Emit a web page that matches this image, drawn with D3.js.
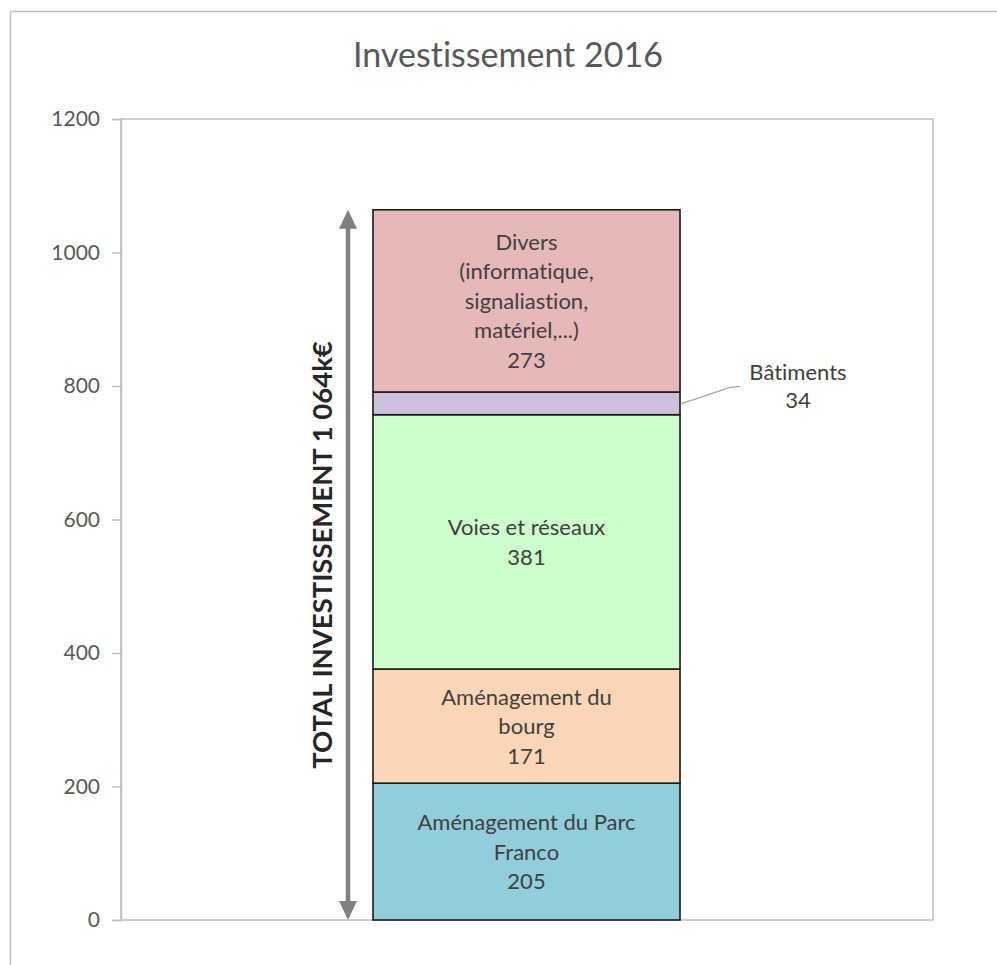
<!DOCTYPE html>
<html><head><meta charset="utf-8">
<script src="https://d3js.org/d3.v7.min.js"></script>
<style>body{margin:0;background:#fff}svg{display:block}text{font-variant-ligatures:none;font-feature-settings:"liga" 0}</style>
</head><body>
<script>
const categories = ["Aménagement du Parc Franco", "Aménagement du bourg", "Voies et réseaux", "Bâtiments", "Divers (informatique, signaliastion, matériel,...)"];
const values = [205, 171, 381, 34, 273];
const labelLines = [["Aménagement du Parc", "Franco"], ["Aménagement du", "bourg"], ["Voies et réseaux"], ["Bâtiments"], ["Divers", "(informatique,", "signaliastion,", "matériel,...)"]];
const colors = ["#92CDDC", "#FBD5B5", "#CCFFCC", "#CCC0DA", "#E6B9B8"];
const yTicks = [0, 200, 400, 600, 800, 1000, 1200];
const title = "Investissement 2016";
const totalLabel = "TOTAL INVESTISSEMENT 1 064k€";

const W = 997, H = 965;
const svg = d3.select("body").append("svg").attr("width", W).attr("height", H);
const font = "Lato, 'Open Sans', sans-serif";

svg.append("rect").attr("x", 10.5).attr("y", 11.5).attr("width", 1000).attr("height", 1000)
  .attr("fill", "#fff").attr("stroke", "#bfbfbf").attr("stroke-width", 1.5);

const plot = {l: 121, r: 933, t: 119, b: 920};
const y = d3.scaleLinear().domain([0, 1200]).range([plot.b, plot.t]);

svg.append("rect").attr("x", plot.l).attr("y", plot.t).attr("width", plot.r - plot.l).attr("height", plot.b - plot.t)
  .attr("fill", "none").attr("stroke", "#bfbfbf").attr("stroke-width", 1.5);

const axis = d3.axisLeft(y).tickValues(yTicks).tickFormat(d3.format("d")).tickSize(9).tickPadding(12);
const ag = svg.append("g").attr("transform", `translate(${plot.l},0)`).call(axis);
ag.select(".domain").attr("stroke", "#bfbfbf").attr("stroke-width", 1.5);
ag.selectAll(".tick line").attr("stroke", "#bfbfbf").attr("stroke-width", 1.5);
ag.selectAll(".tick text").attr("fill", "#595959").attr("font-family", font).attr("font-size", 21)
  .attr("dy", null).attr("y", 6.5);

svg.append("text").attr("x", 508).attr("y", 67).attr("text-anchor", "middle")
  .attr("font-family", font).attr("font-size", 34).attr("fill", "#595959").text(title);

// stacked data
let cum = 0;
const segs = values.map((v, i) => { const s = {v, i, y0: cum, y1: cum + v}; cum += v; return s; });
const barX0 = 373, barX1 = 680;

svg.selectAll("rect.seg").data(segs).enter().append("rect")
  .attr("x", barX0).attr("width", barX1 - barX0)
  .attr("y", d => y(d.y1)).attr("height", d => y(d.y0) - y(d.y1))
  .attr("fill", d => colors[d.i]).attr("stroke", "#1a1a1a").attr("stroke-width", 1.6);

const cx = (barX0 + barX1) / 2;
const lh = 29.5;
segs.forEach(d => {
  if (d.i === 3) return;
  const lines = labelLines[d.i].concat([String(d.v)]);
  const mid = (y(d.y0) + y(d.y1)) / 2;
  const start = mid - (lines.length - 1) * lh / 2 + 8;
  const t = svg.append("text").attr("text-anchor", "middle").attr("font-family", font)
    .attr("font-size", 22).attr("fill", "#404040");
  lines.forEach((ln, k) => t.append("tspan").attr("x", cx).attr("y", start + k * lh).text(ln));
});

// Bâtiments outside label
const b = segs[3];
const bMid = (y(b.y0) + y(b.y1)) / 2;
svg.append("polyline").attr("points", `${barX1+1},${bMid+0.5} ${barX1+50},${bMid-16} ${barX1+60},${bMid-17}`)
  .attr("fill", "none").attr("stroke", "#a6a6a6").attr("stroke-width", 1.2);
const bt = svg.append("text").attr("text-anchor", "middle").attr("font-family", font)
  .attr("font-size", 22).attr("fill", "#404040");
bt.append("tspan").attr("x", 798).attr("y", bMid - 23.5).text(labelLines[3][0]);
bt.append("tspan").attr("x", 798).attr("y", bMid - 23.5 + 28.5).text(String(b.v));

// total arrow
const ax = 348;
const yTop = y(cum), yBot = y(0);
svg.append("line").attr("x1", ax).attr("x2", ax).attr("y1", yTop + 12).attr("y2", yBot - 12)
  .attr("stroke", "#808080").attr("stroke-width", 4.5);
svg.append("path").attr("d", `M${ax},${yTop} L${ax-9},${yTop+19} L${ax+9},${yTop+19} Z`).attr("fill", "#808080");
svg.append("path").attr("d", `M${ax},${yBot} L${ax-9},${yBot-19} L${ax+9},${yBot-19} Z`).attr("fill", "#808080");

svg.append("text").attr("transform", `translate(332,555) rotate(-90)`)
  .attr("text-anchor", "middle").attr("font-family", font).attr("font-size", 27.5).attr("font-weight", "bold")
  .attr("fill", "#262626").text(totalLabel);
</script>
</body></html>
